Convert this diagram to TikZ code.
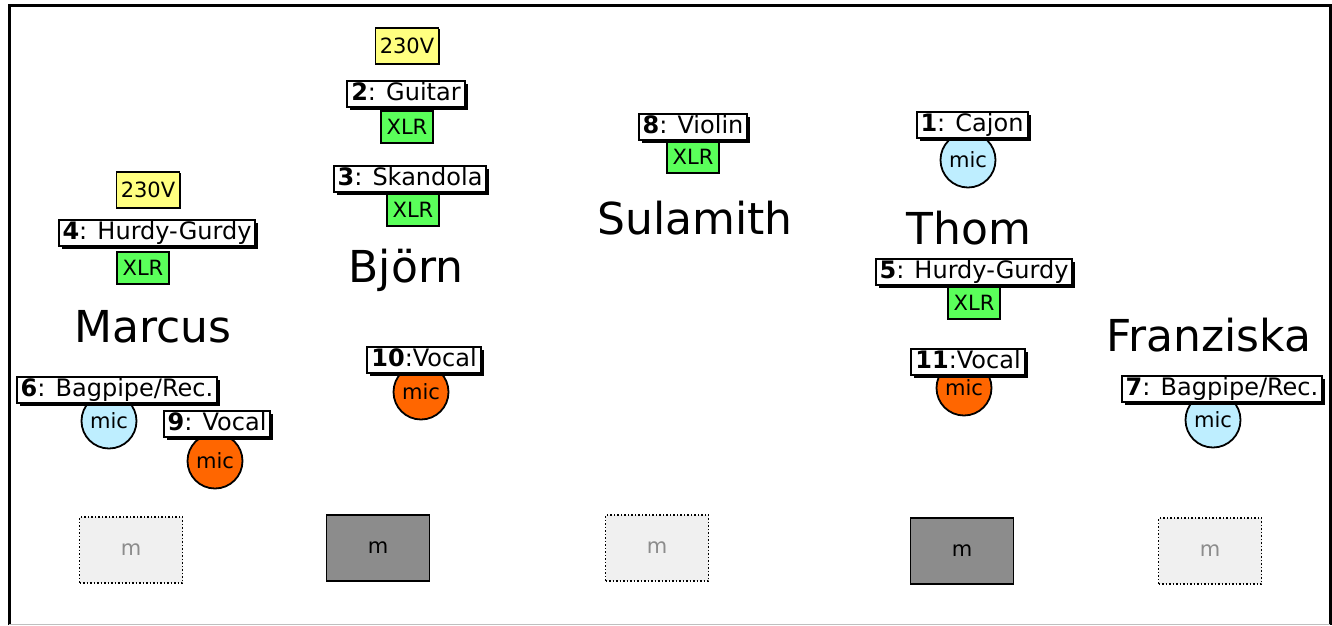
\documentclass[tikz,border=0pt]{standalone}
\usepackage{fontspec}
\setmainfont{DejaVu Sans}
\usetikzlibrary{shadows}

\definecolor{pwryellow}{RGB}{255,255,128}
\definecolor{xlrgreen}{RGB}{90,255,90}
\definecolor{micblue}{RGB}{190,238,255}
\definecolor{micorange}{RGB}{255,102,0}
\definecolor{mondark}{RGB}{140,140,140}
\definecolor{monlight}{RGB}{240,240,240}

\tikzset{
  chan/.style={draw, line width=2pt, fill=white, inner xsep=4pt, inner ysep=1.5pt,
    text height=18pt, text depth=5.5pt, font=\fontsize{24}{24}\selectfont,
    drop shadow={shadow xshift=3pt, shadow yshift=-3pt, fill=black, opacity=1}},
  power/.style={draw, line width=1.5pt, fill=pwryellow, minimum width=63pt, minimum height=36pt,
    font=\fontsize{21}{21}\selectfont,
    drop shadow={shadow xshift=1pt, shadow yshift=-1pt, fill=black, opacity=1}},
  xlr/.style={draw, line width=1.5pt, fill=xlrgreen, minimum width=52pt, minimum height=32pt,
    font=\fontsize{21}{21}\selectfont,
    drop shadow={shadow xshift=1pt, shadow yshift=-1pt, fill=black, opacity=1}},
  mic/.style={circle, draw, line width=1.8pt, fill=micblue, minimum size=55pt, inner sep=0pt,
    font=\fontsize{21}{21}\selectfont},
  vmic/.style={mic, fill=micorange},
  mon/.style={draw, line width=1.5pt, fill=mondark, minimum width=103pt, minimum height=66pt,
    font=\fontsize{21}{21}\selectfont},
  monoff/.style={draw, line width=1.5pt, dash pattern=on 1.5pt off 2pt, fill=monlight, text=mondark,
    minimum width=103pt, minimum height=66pt, font=\fontsize{21}{21}\selectfont},
  person/.style={font=\fontsize{44}{44}\selectfont, inner sep=0pt}
}

\begin{document}
\begin{tikzpicture}[x=1pt, y=-1pt]
		\useasboundingbox (0,0) rectangle (1332,625);
		\draw [line width=3pt] (9,625) -- (9,5) -- (1330,5) -- (1330,625);
		\draw [line width=1pt, black!25] (9,624) -- (1330,624);
		
		% Marcus
		\node [power] (pwrM) at (148, 190) {230V};
		\node [xlr] (xlrM) at (143, 268) {XLR};
		\node [chan] (ch4) at (157, 233) {\textbf{4}: Hurdy-Gurdy};
		\node [person] (marcus) at (153, 327) {Marcus};
		\node [mic] (micM) at (109, 421) {mic};
		\node [chan] (ch6) at (117, 390) {\textbf{6}: Bagpipe/Rec.};
		\node [vmic] (vmicM) at (215, 461) {mic};
		\node [chan] (ch9) at (217, 424) {\textbf{9}: Vocal};
		\node [monoff] (monM) at (131, 550) {m};
		
		% Bjoern
		\node [power] (pwrB) at (407, 46) {230V};
		\node [xlr] (xlrB1) at (407, 127) {XLR};
		\node [chan] (ch2) at (406, 94) {\textbf{2}: Guitar};
		\node [xlr] (xlrB2) at (413, 210) {XLR};
		\node [chan] (ch3) at (410, 179) {\textbf{3}: Skandola};
		\node [person] (bjorn) at (406, 270) {Björn};
		\node [vmic] (vmicB) at (421, 392) {mic};
		\node [chan] (ch10) at (424, 360) {\textbf{10}:Vocal};
		\node [mon] (monB) at (378, 548) {m};
		
		% Sulamith
		\node [xlr] (xlrS) at (693, 157) {XLR};
		\node [chan] (ch8) at (693, 127) {\textbf{8}: Violin};
		\node [person] (sulamith) at (695, 218) {Sulamith};
		\node [monoff] (monS) at (657, 548) {m};
		
		% Thom
		\node [mic] (micT) at (968, 160) {mic};
		\node [chan] (ch1) at (972, 125) {\textbf{1}: Cajon};
		\node [person] (thom) at (969, 228) {Thom};
		\node [xlr] (xlrT) at (974, 303) {XLR};
		\node [chan] (ch5) at (974, 272) {\textbf{5}: Hurdy-Gurdy};
		\node [vmic] (vmicT) at (964, 388) {mic};
		\node [chan] (ch11) at (968, 362) {\textbf{11}:Vocal};
		\node [mon] (monT) at (962, 551) {m};
		
		% Franziska
		\node [person] (franziska) at (1209, 335) {Franziska};
		\node [mic] (micF) at (1213, 420) {mic};
		\node [chan] (ch7) at (1222, 389) {\textbf{7}: Bagpipe/Rec.};
		\node [monoff] (monF) at (1210, 551) {m};
		\end{tikzpicture}
\end{document}
